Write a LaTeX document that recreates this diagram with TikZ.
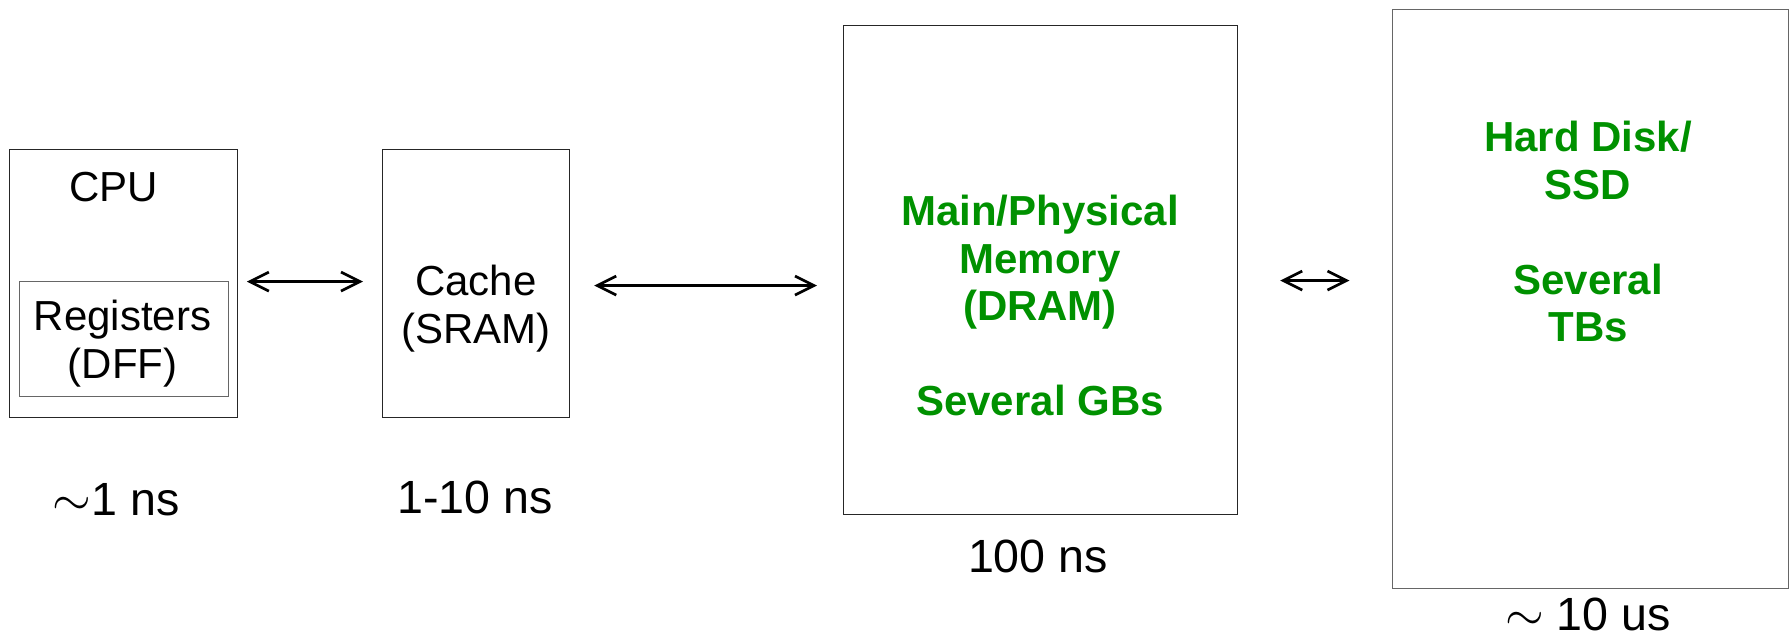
\documentclass[tikz,border=0pt]{standalone}
\usepackage{fontspec}
\setmainfont{Liberation Sans}
\usetikzlibrary{arrows.meta}
\definecolor{memgreen}{RGB}{0,145,0}
\begin{document}
\begin{tikzpicture}[x=0.5pt,y=-0.5pt,
  box/.style={draw=black!85, line width=0.6pt, inner sep=0pt, anchor=north west},
  lbl/.style={inner sep=0pt, align=center, anchor=north, font=\fontsize{21pt}{23.75pt}\selectfont},
  memlbl/.style={lbl, font=\fontsize{21pt}{23.75pt}\selectfont\bfseries, text=memgreen},
  tlbl/.style={inner sep=0pt, anchor=base, font=\fontsize{23.3pt}{28pt}\selectfont},
  conn/.style={{Straight Barb[length=9.5pt,width=9.5pt]}-{Straight Barb[length=9.5pt,width=9.5pt]}, line width=1.35pt}]
\useasboundingbox (0,0) rectangle (1789,642);
% boxes
\node[box, minimum width=114pt, minimum height=134pt] (cpu) at (9,149) {};
\node[box, draw=black!60, minimum width=104.5pt, minimum height=57.5pt] (reg) at (18.5,281) {};
\node[box, minimum width=93.5pt, minimum height=134pt] (cache) at (382,149) {};
\node[box, minimum width=197pt, minimum height=244.5pt] (main) at (843,25) {};
\node[box, draw=black!60, minimum width=198.3pt, minimum height=289.5pt] (disk) at (1391.5,9) {};
% box texts
\node[lbl] (cputxt) at (114,172) {CPU};
\node[lbl] (regtxt) at (122.5,300) {Registers\\(DFF)};
\node[lbl] (cachetxt) at (476,265) {Cache\\(SRAM)};
\node[memlbl] (maintxt) at (1040,195) {Main/Physical\\Memory\\(DRAM)\\[23.75pt]Several GBs};
\node[memlbl] (disktxt) at (1588,121) {Hard Disk/\\SSD\\[23.75pt]Several\\TBs};
% latency labels
\node[tlbl] (t1) at (116,515) {$\sim$1 ns};
\node[tlbl] (t2) at (475,513.5) {1-10 ns};
\node[tlbl] (t3) at (1038,572) {100 ns};
\node[tlbl] (t4) at (1588,630) {$\sim$ 10 us};
% connectors
\coordinate (a1s) at ([xshift=4.35pt,yshift=1pt]cpu.east);
\draw[conn] (a1s) -- ([xshift=-9.5pt]cache.west |- a1s);
\coordinate (a2s) at ([xshift=12pt,yshift=-1pt]cache.east);
\draw[conn] (a2s) -- ([xshift=-13pt]main.west |- a2s);
\coordinate (a3s) at ([xshift=21pt,yshift=-5.25pt]main.east);
\draw[conn] (a3s) -- ([xshift=-21pt]disk.west |- a3s);
\end{tikzpicture}
\end{document}
